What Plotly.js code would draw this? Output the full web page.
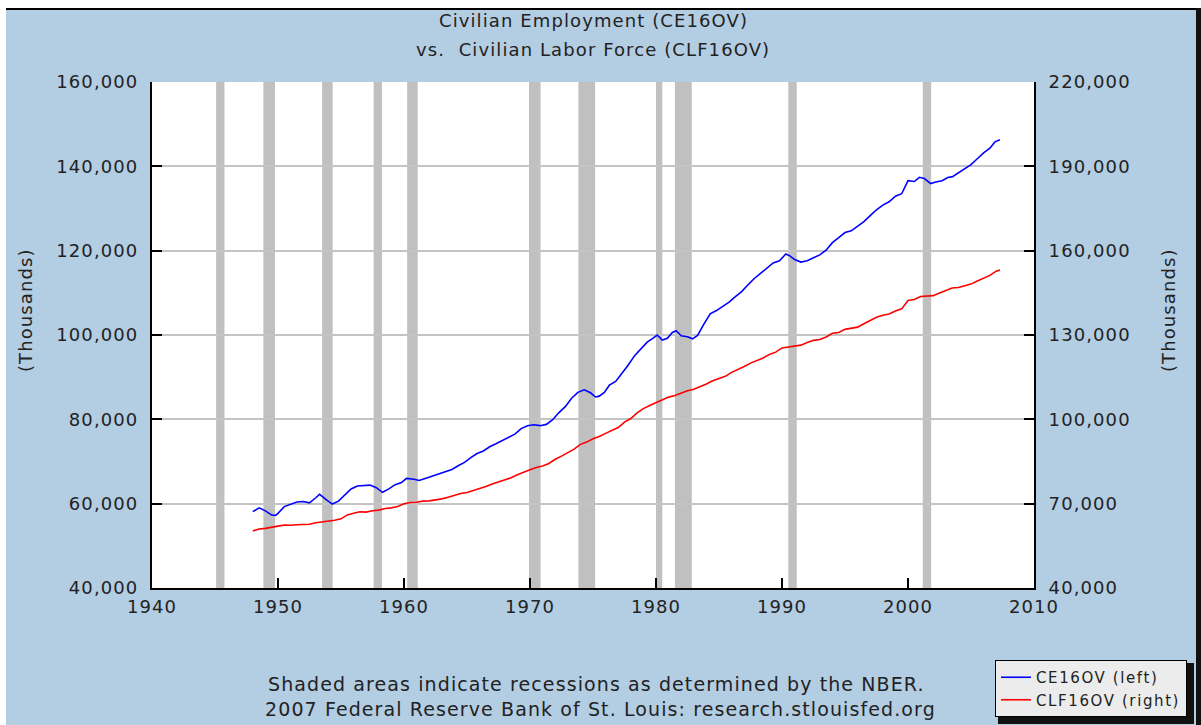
<!DOCTYPE html>
<html>
<head>
<meta charset="utf-8">
<script src="https://cdn.plot.ly/plotly-3.0.1.min.js"></script>
<style>
html,body{margin:0;padding:0;background:#fff;}
#chart{width:1201px;height:725px;}
svg text{letter-spacing:1.1px;}
.xtick text,.ytick text,.y2tick text{letter-spacing:1.1px;}
.legendtext{letter-spacing:1.6px;}
</style>
</head>
<body>
<div id="chart"></div>
<script>
// Civilian Employment (CE16OV), thousands, left axis
const ceYears = [1948.0,1948.5,1949.0,1949.5,1949.8,1950.0,1950.5,1951.0,1951.5,1952.0,1952.5,1953.0,1953.3,1953.8,1954.3,1954.8,1955.3,1955.8,1956.3,1956.8,1957.3,1957.8,1958.3,1958.8,1959.3,1959.8,1960.2,1960.8,1961.2,1961.8,1962.3,1962.8,1963.3,1963.8,1964.3,1964.8,1965.3,1965.8,1966.3,1966.8,1967.3,1967.8,1968.3,1968.8,1969.3,1969.8,1970.3,1970.8,1971.3,1971.8,1972.3,1972.8,1973.3,1973.8,1974.3,1974.8,1975.2,1975.5,1975.9,1976.3,1976.8,1977.3,1977.8,1978.3,1978.8,1979.3,1979.8,1980.1,1980.5,1980.9,1981.3,1981.6,1982.0,1982.5,1982.9,1983.3,1983.8,1984.3,1984.8,1985.3,1985.8,1986.3,1986.8,1987.3,1987.8,1988.3,1988.8,1989.3,1989.8,1990.3,1990.6,1991.0,1991.5,1992.0,1992.5,1993.0,1993.5,1994.0,1994.5,1995.0,1995.5,1996.0,1996.5,1997.0,1997.5,1998.0,1998.5,1999.0,1999.5,2000.0,2000.5,2000.9,2001.3,2001.8,2002.2,2002.7,2003.2,2003.5,2004.0,2004.5,2005.0,2005.5,2006.0,2006.5,2006.9,2007.3];
const ceValues = [58100,59000,58300,57300,57200,57700,59300,59800,60400,60500,60200,61400,62200,61000,59900,60600,62100,63500,64200,64300,64400,63800,62700,63500,64500,65000,66000,65800,65500,66100,66600,67000,67600,68100,69000,69800,70900,71900,72500,73500,74200,75000,75700,76500,77800,78500,78700,78500,78800,79900,81600,83000,85000,86400,87000,86300,85300,85500,86400,88100,89000,90900,92900,95100,96700,98300,99300,100000,98800,99200,100600,101000,99800,99600,99100,99900,102600,105000,105800,106800,107800,109100,110300,111900,113400,114600,115900,117100,117600,119200,118800,117900,117300,117600,118300,119000,120100,121900,123100,124300,124700,125800,126900,128300,129700,130800,131600,132900,133500,136600,136400,137400,137100,135900,136300,136600,137400,137500,138500,139500,140400,141800,143200,144300,145800,146300];

// Civilian Labor Force (CLF16OV), thousands, right axis
const clfYears = [1948.0,1948.5,1949.0,1949.5,1950.0,1950.5,1951.0,1951.5,1952.0,1952.5,1953.0,1953.5,1954.0,1954.5,1955.0,1955.5,1956.0,1956.5,1957.0,1957.5,1958.0,1958.5,1959.0,1959.5,1960.0,1960.5,1961.0,1961.5,1962.0,1962.5,1963.0,1963.5,1964.0,1964.5,1965.0,1965.5,1966.0,1966.5,1967.0,1967.5,1968.0,1968.5,1969.0,1969.5,1970.0,1970.5,1971.0,1971.5,1972.0,1972.5,1973.0,1973.5,1974.0,1974.5,1975.0,1975.5,1976.0,1976.5,1977.0,1977.5,1978.0,1978.5,1979.0,1979.5,1980.0,1980.5,1981.0,1981.5,1982.0,1982.5,1983.0,1983.5,1984.0,1984.5,1985.0,1985.5,1986.0,1986.5,1987.0,1987.5,1988.0,1988.5,1989.0,1989.5,1990.0,1990.5,1991.0,1991.5,1992.0,1992.5,1993.0,1993.5,1994.0,1994.5,1995.0,1995.5,1996.0,1996.5,1997.0,1997.5,1998.0,1998.5,1999.0,1999.5,2000.0,2000.5,2001.0,2001.5,2002.0,2002.5,2003.0,2003.5,2004.0,2004.5,2005.0,2005.5,2006.0,2006.5,2007.0,2007.3];
const clfValues = [60300,61000,61200,61700,62000,62400,62300,62500,62600,62700,63200,63500,63700,64100,64600,66000,66600,67100,67000,67500,67700,68300,68500,69000,70000,70400,70500,70900,71000,71300,71700,72300,73000,73600,74000,74700,75300,76100,77000,77700,78300,79200,80300,81300,82100,82900,83400,84300,85800,86900,88200,89400,91100,91900,93100,93900,95000,96200,97100,99000,100300,102300,103800,104900,105900,106900,107900,108500,109300,110200,110700,111600,112600,113700,114600,115300,116700,117700,118800,120000,120900,121800,123100,123900,125400,125700,125900,126400,127300,128100,128400,129300,130600,130900,132000,132300,132800,134000,135200,136300,137000,137500,138500,139300,142300,142600,143700,143800,144000,144900,145900,146700,146900,147600,148100,149200,150300,151200,152700,153100];

// NBER recessions (start, end) in decimal years
const recStart = [1945.09,1948.84,1953.50,1957.59,1960.25,1969.92,1973.84,1980.00,1981.50,1990.50,2001.17];
const recEnd   = [1945.75,1949.76,1954.34,1958.25,1961.09,1970.84,1975.17,1980.50,1982.84,1991.17,2001.84];

const seriesNames = ['CE16OV (left)','CLF16OV (right)'];
const titleLines = ['Civilian Employment (CE16OV)','vs.\u00a0 Civilian Labor Force (CLF16OV)'];
const footLines = ['Shaded areas indicate recessions as determined by the NBER.','2007 Federal Reserve Bank of St. Louis: research.stlouisfed.org'];

const FONT = 'DejaVu Sans, Verdana, sans-serif';
const TXT = '#222222';

const traces = [
  {x: ceYears, y: ceValues, type: 'scatter', mode: 'lines', name: seriesNames[0],
   line: {color: '#0000ff', width: 1.6}, yaxis: 'y'},
  {x: clfYears, y: clfValues, type: 'scatter', mode: 'lines', name: seriesNames[1],
   line: {color: '#ff0000', width: 1.6}, yaxis: 'y2'}
];

const shapes = [];
for (let i = 0; i < recStart.length; i++) {
  shapes.push({type: 'rect', xref: 'x', yref: 'paper', x0: recStart[i], x1: recEnd[i], y0: 0, y1: 1,
    fillcolor: '#c0c0c0', line: {width: 0}, layer: 'below'});
}
// plot geometry helpers (pixels -> paper)
const L = 152, R = 1034, T = 82, B = 588;
const px = v => (v - L) / (R - L);
const py = v => (B - v) / (B - T);
// top white strip and black rule, right dark border, left white strip
shapes.push({type: 'rect', xref: 'paper', yref: 'paper', x0: px(0), x1: px(1201), y0: py(0), y1: py(8),
  fillcolor: '#ffffff', line: {width: 0}, layer: 'above'});
shapes.push({type: 'rect', xref: 'paper', yref: 'paper', x0: px(6), x1: px(1201), y0: py(8), y1: py(10),
  fillcolor: '#000000', line: {width: 0}, layer: 'above'});
shapes.push({type: 'rect', xref: 'paper', yref: 'paper', x0: px(0), x1: px(6), y0: py(8), y1: py(725),
  fillcolor: '#ffffff', line: {width: 0}, layer: 'above'});
shapes.push({type: 'rect', xref: 'paper', yref: 'paper', x0: px(1196), x1: px(1201), y0: py(8), y1: py(725),
  fillcolor: '#111111', line: {width: 0}, layer: 'above'});
// legend shadow
shapes.push({type: 'rect', xref: 'paper', yref: 'paper', x0: px(998), x1: px(1194), y0: py(663), y1: py(724),
  fillcolor: '#111111', line: {width: 0}, layer: 'above'});

const annotations = [
  {text: titleLines[0], xref: 'paper', yref: 'paper', x: 0.5, y: py(20), showarrow: false,
   xanchor: 'center', yanchor: 'middle', font: {family: FONT, size: 18, color: TXT}},
  {text: titleLines[1], xref: 'paper', yref: 'paper', x: 0.5, y: py(50), showarrow: false,
   xanchor: 'center', yanchor: 'middle', font: {family: FONT, size: 18, color: TXT}},
  {text: '(Thousands)', xref: 'paper', yref: 'paper', x: px(25), y: py(310), showarrow: false,
   textangle: -90, xanchor: 'center', yanchor: 'middle', font: {family: FONT, size: 18, color: TXT}},
  {text: '(Thousands)', xref: 'paper', yref: 'paper', x: px(1168), y: py(310), showarrow: false,
   textangle: -90, xanchor: 'center', yanchor: 'middle', font: {family: FONT, size: 18, color: TXT}},
  {text: footLines[0], xref: 'paper', yref: 'paper', x: px(596), y: py(684), showarrow: false,
   xanchor: 'center', yanchor: 'middle', font: {family: FONT, size: 19, color: TXT}},
  {text: footLines[1], xref: 'paper', yref: 'paper', x: px(600), y: py(709), showarrow: false,
   xanchor: 'center', yanchor: 'middle', font: {family: FONT, size: 19, color: TXT}}
];

const tickFont = {family: FONT, size: 18, color: TXT};

const layout = {
  width: 1201, height: 725,
  paper_bgcolor: '#b3cde3', plot_bgcolor: '#ffffff',
  margin: {l: L, r: 1201 - R, t: T, b: 725 - B, autoexpand: false},
  showlegend: true,
  legend: {x: px(995), y: py(660), xanchor: 'left', yanchor: 'top',
    bgcolor: '#ececec', bordercolor: '#000000', borderwidth: 1,
    font: {family: FONT, size: 15, color: TXT}, tracegroupgap: 2, itemwidth: 30},
  xaxis: {range: [1940, 2010], tickmode: 'linear', tick0: 1940, dtick: 10,
    ticks: 'inside', ticklen: 10, tickwidth: 2, tickcolor: '#000',
    showline: true, linecolor: '#000', linewidth: 2, showgrid: false, zeroline: false,
    tickfont: tickFont, ticklabelstandoff: 1},
  yaxis: {range: [40000, 160000], tickmode: 'linear', tick0: 40000, dtick: 20000, tickformat: ',d',
    ticks: 'inside', ticklen: 10, tickwidth: 2, tickcolor: '#000',
    showline: true, linecolor: '#000', linewidth: 2, showgrid: true, gridcolor: '#c4c4c4', gridwidth: 2,
    zeroline: false, tickfont: tickFont, ticklabelstandoff: 8},
  yaxis2: {range: [40000, 220000], tickmode: 'linear', tick0: 40000, dtick: 30000, tickformat: ',d',
    overlaying: 'y', side: 'right',
    ticks: 'inside', ticklen: 10, tickwidth: 2, tickcolor: '#000',
    showline: true, linecolor: '#000', linewidth: 2, showgrid: false, zeroline: false,
    tickfont: tickFont, ticklabelstandoff: 9},
  shapes: shapes,
  annotations: annotations
};

Plotly.newPlot('chart', traces, layout, {staticPlot: true, displayModeBar: false});
</script>
</body>
</html>
